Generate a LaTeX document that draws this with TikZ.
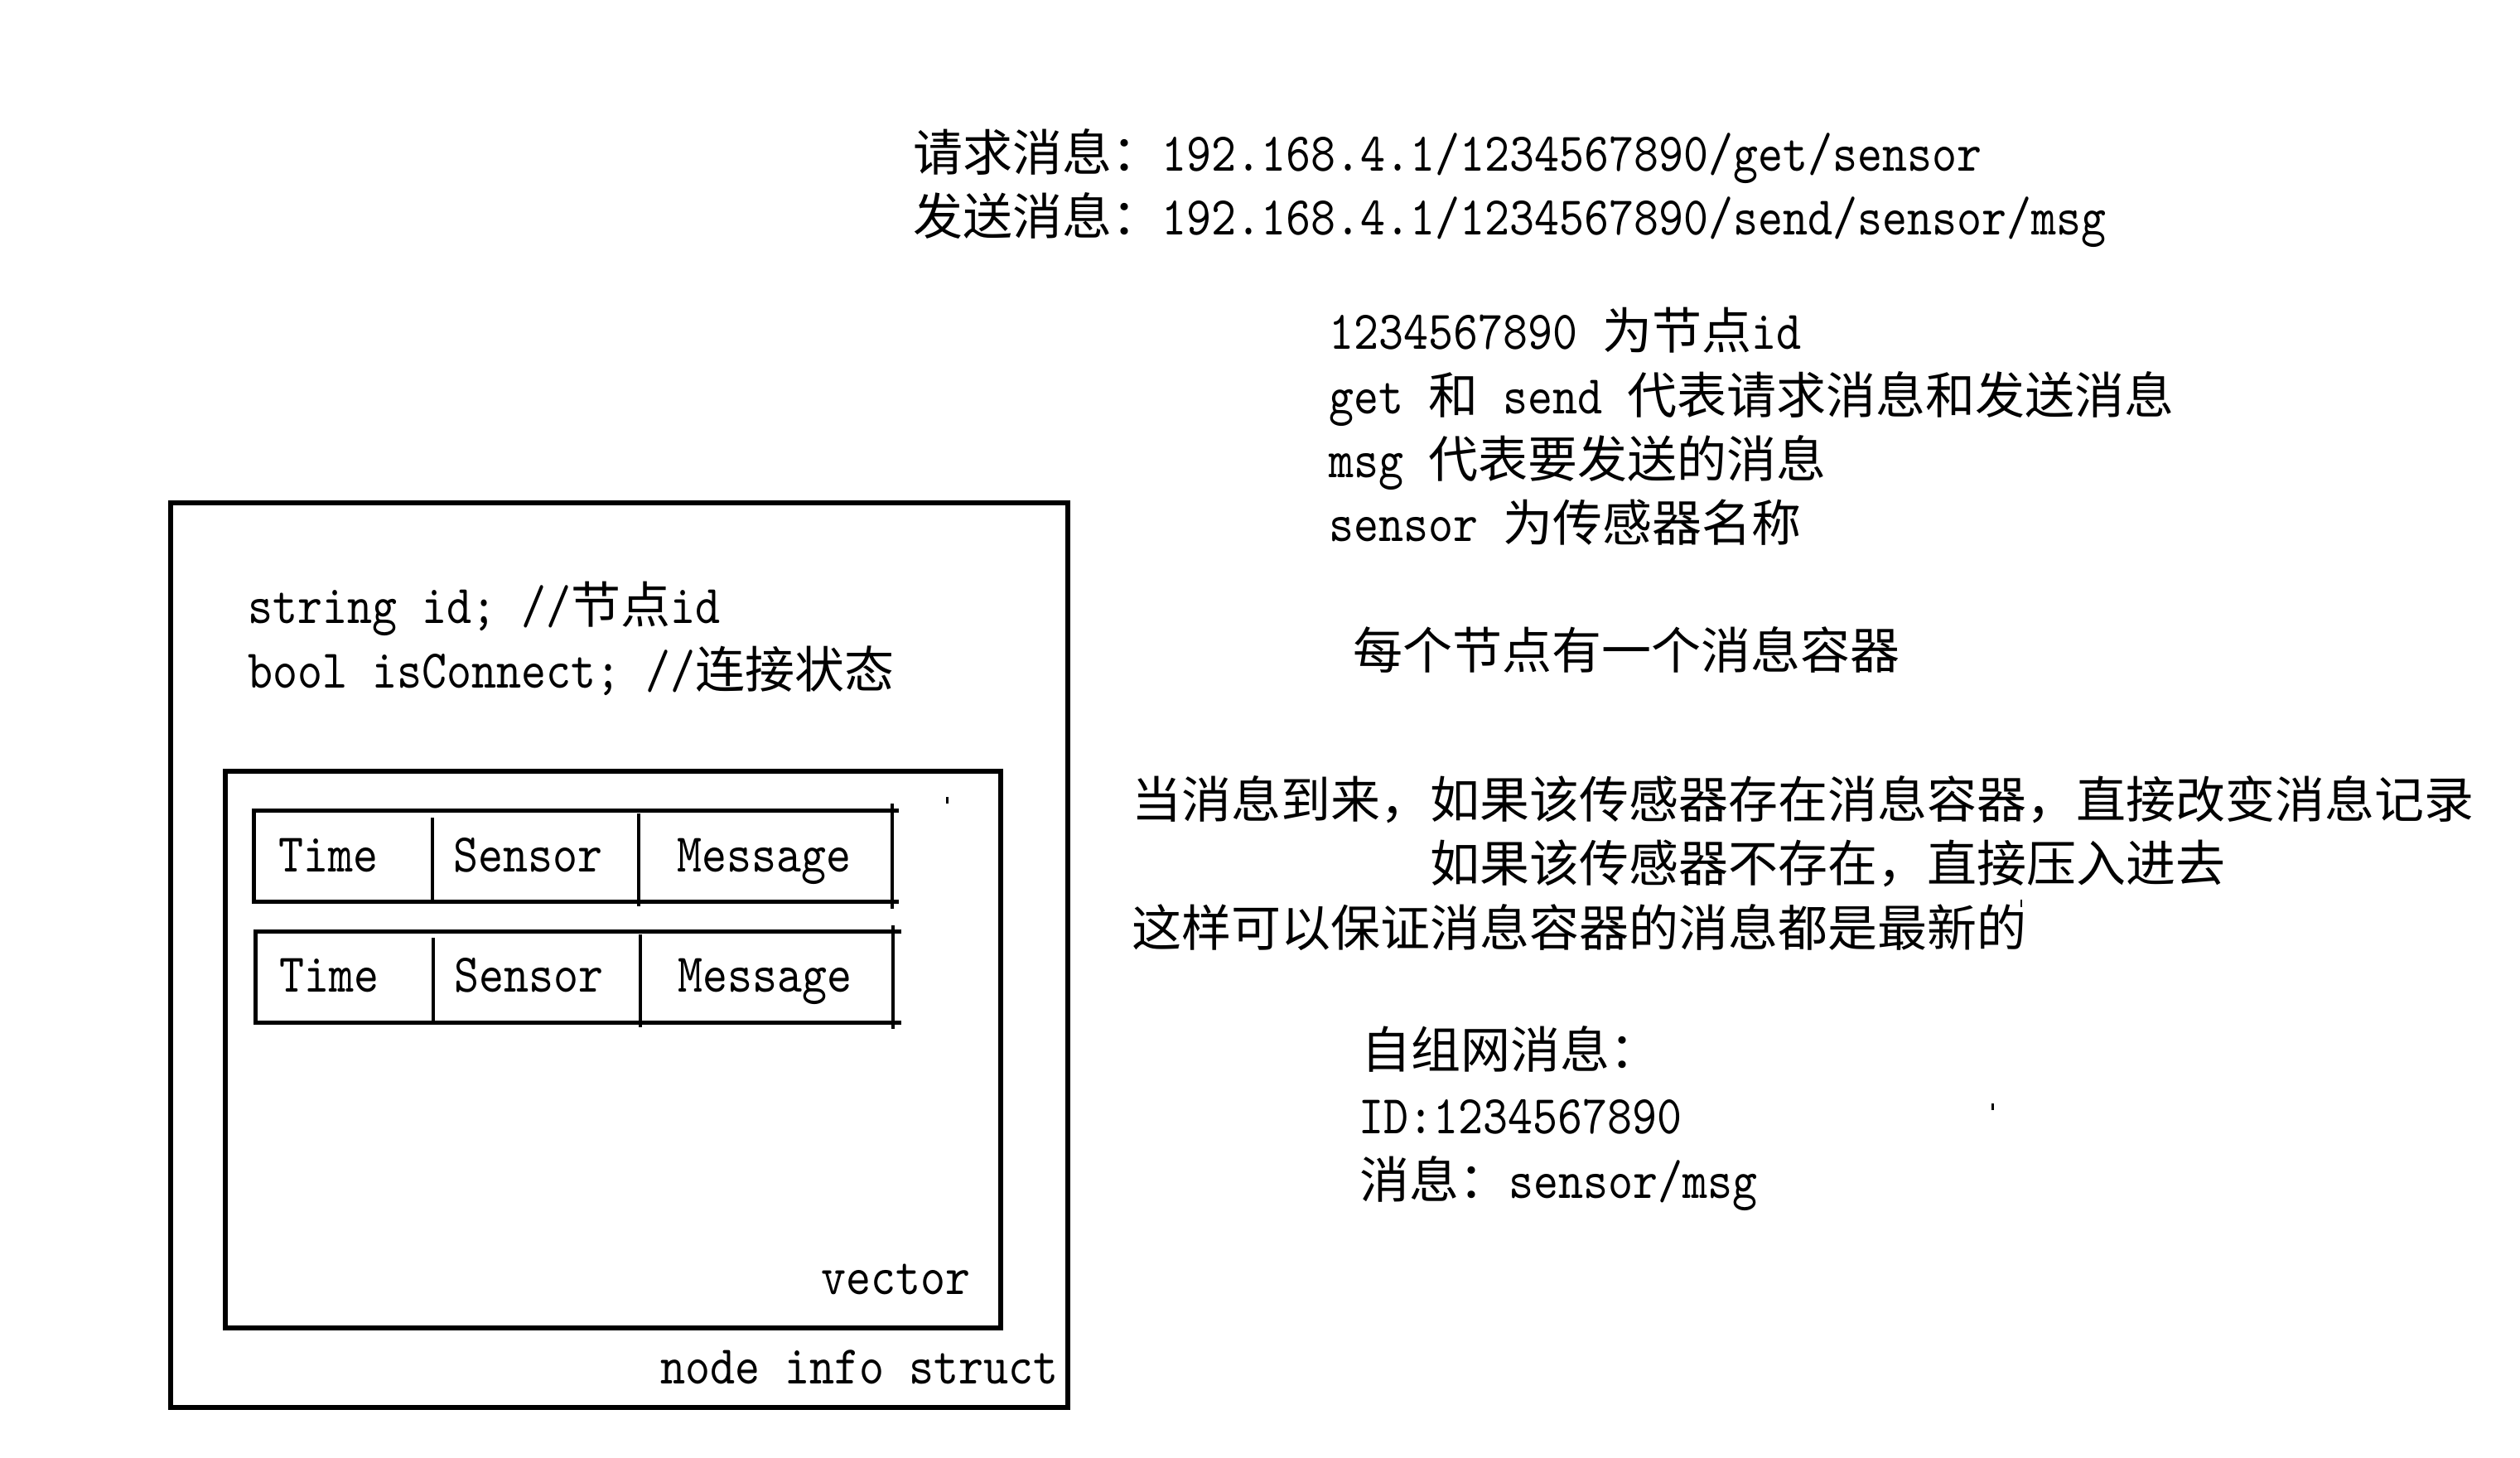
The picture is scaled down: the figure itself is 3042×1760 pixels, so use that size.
\documentclass[tikz,border=0pt]{standalone}
\usepackage{fontspec}
\newfontfamily\latf[FakeStretch=0.866]{lmmono10-regular.otf}
\newfontfamily\cjf{Noto Sans CJK SC}
\newcommand\cn[1]{{\fontsize{60pt}{77pt}\selectfont\cjf #1}}
\tikzset{
  txt/.style={anchor=base west, inner sep=0pt, outer sep=0pt, font=\fontsize{66pt}{77pt}\selectfont\latf},
  frame/.style={line width=5.5pt},
  rowline/.style={line width=5pt, line join=miter},
  divline/.style={line width=3.5pt},
  endline/.style={line width=4pt}
}
\begin{document}
\begin{tikzpicture}[x=1pt,y=-1pt]
\useasboundingbox (0,0) rectangle (3042,1760);
\fill[white] (0,0) rectangle (3042,1760);

% top messages
\node[txt] (t1) at (1102,207) {\cn{请求消息：}192.168.4.1/1234567890/get/sensor};
\node[txt] (t2) at (1102,284) {\cn{发送消息：}192.168.4.1/1234567890/send/sensor/msg};

% explanations
\node[txt] (r1) at (1604,422) {1234567890 \cn{为节点}id};
\node[txt] (r2) at (1604,499) {get \cn{和} send \cn{代表请求消息和发送消息}};
\node[txt] (r3) at (1604,576) {msg \cn{代表要发送的消息}};
\node[txt] (r4) at (1604,653) {sensor \cn{为传感器名称}};

\node[txt] (m1) at (1633,807) {\cn{每个节点有一个消息容器}};

\node[txt] (c1) at (1366,987) {\cn{当消息到来，如果该传感器存在消息容器，直接改变消息记录}};
\node[txt] (c2) at (1726,1064) {\cn{如果该传感器不存在，直接压入进去}};
\node[txt] (c3) at (1366,1142) {\cn{这样可以保证消息容器的消息都是最新的}};

\node[txt] (s1) at (1643,1289) {\cn{自组网消息：}};
\node[txt] (s2) at (1640,1368) {ID:1234567890};
\node[txt] (s3) at (1641,1446) {\cn{消息：}sensor/msg};

% stray marks
\fill (1141.5,962) rectangle (1144.5,970);
\fill (2403.5,1332) rectangle (2406.5,1340);
\fill (2439,1086) rectangle (2441,1095);

% node info struct box
\draw[frame] (206,607) rectangle (1289,1699);
\node[txt] (b1) at (299,752) {string id; //\cn{节点}id};
\node[txt] (b2) at (299,830) {bool isConnect; //\cn{连接状态}};
\node[txt] (ns) at (797,1670) {node info struct};

% vector box
\draw[frame] (272,931) rectangle (1208,1603);
\node[txt] (vec) at (991,1562) {vector};

% row 1
\draw[rowline] (1085,978) -- (306,978) -- (306,1088) -- (1085,1088);
\draw[divline] (522,987) -- (522,1088);
\draw[divline] (771,982) -- (771,1094);
\draw[endline] (1077,970) -- (1077,1097);
\node[txt] (time1) at (336,1052) {Time};
\node[txt] (sens1) at (547,1052) {Sensor};
\node[txt] (msg1) at (817,1052) {Message};

% row 2
\draw[rowline] (1088,1124) -- (308,1124) -- (308,1234) -- (1088,1234);
\draw[divline] (523,1132) -- (523,1234);
\draw[divline] (773,1128) -- (773,1240);
\draw[endline] (1078,1117) -- (1078,1242);
\node[txt] (time2) at (337,1197) {Time};
\node[txt] (sens2) at (548,1197) {Sensor};
\node[txt] (msg2) at (818,1197) {Message};
\end{tikzpicture}
\end{document}
